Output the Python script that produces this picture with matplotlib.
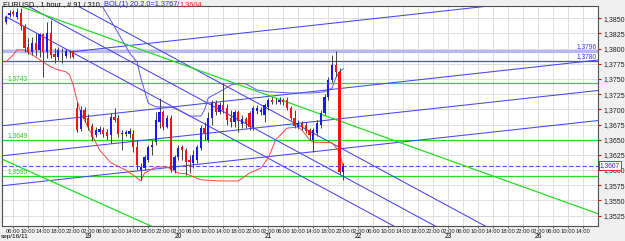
import matplotlib
matplotlib.use("Agg")
import matplotlib.pyplot as plt
from matplotlib import font_manager
import numpy as np

plt.rcParams['font.family'] = ['Liberation Sans', 'DejaVu Sans']

W, H = 625, 241

## BARS (hour index counted from sep/16 06:00, weekend skipped)
bar_idx = list(range(-2, 89))
opens = [1.3844, 1.3855, 1.3860, 1.3852, 1.3859, 1.3837, 1.3803, 1.3794, 1.3809, 1.3798,
         1.3824, 1.3794, 1.3826, 1.3791, 1.3786, 1.3794, 1.3788, 1.3793, 1.3796, 1.3702,
         1.3668, 1.3699, 1.3686, 1.3673, 1.3658, 1.3663, 1.3666, 1.3663, 1.3658, 1.3687,
         1.3686, 1.3659, 1.3659, 1.3659, 1.3659, 1.3638, 1.3600, 1.3603, 1.3617, 1.3638,
         1.3646, 1.3679, 1.3696, 1.3671, 1.3686, 1.3600, 1.3622, 1.3638, 1.3633, 1.3617,
         1.3612, 1.3617, 1.3636, 1.3669, 1.3650, 1.3686, 1.3710, 1.3696, 1.3707, 1.3702,
         1.3686, 1.3679, 1.3696, 1.3676, 1.3684, 1.3694, 1.3671, 1.3697, 1.3696, 1.3691,
         1.3704, 1.3715, 1.3714, 1.3712, 1.3715, 1.3715, 1.3702, 1.3686, 1.3671, 1.3678,
         1.3674, 1.3666, 1.3650, 1.3661, 1.3674, 1.3694, 1.3720, 1.3748, 1.3773, 1.3762,
         1.3597]
highs = [1.3855, 1.3864, 1.3864, 1.3867, 1.3867, 1.3841, 1.3818, 1.3819, 1.3826, 1.3826,
         1.3826, 1.3844, 1.3847, 1.3801, 1.3803, 1.3801, 1.3799, 1.3798, 1.3798, 1.3712,
         1.3706, 1.3704, 1.3692, 1.3678, 1.3671, 1.3673, 1.3671, 1.3668, 1.3694, 1.3702,
         1.3691, 1.3666, 1.3666, 1.3669, 1.3666, 1.3650, 1.3612, 1.3625, 1.3641, 1.3650,
         1.3696, 1.3719, 1.3699, 1.3691, 1.3691, 1.3625, 1.3641, 1.3641, 1.3636, 1.3625,
         1.3633, 1.3641, 1.3674, 1.3679, 1.3696, 1.3715, 1.3715, 1.3712, 1.3743, 1.3709,
         1.3699, 1.3699, 1.3699, 1.3691, 1.3687, 1.3697, 1.3706, 1.3707, 1.3704, 1.3710,
         1.3719, 1.3720, 1.3719, 1.3720, 1.3719, 1.3720, 1.3706, 1.3699, 1.3682, 1.3681,
         1.3679, 1.3669, 1.3669, 1.3682, 1.3699, 1.3725, 1.3753, 1.3790, 1.3796, 1.3768,
         1.3612]
lows = [1.3841, 1.3852, 1.3854, 1.3849, 1.3831, 1.3794, 1.3791, 1.3790, 1.3788, 1.3786,
        1.3753, 1.3785, 1.3785, 1.3776, 1.3781, 1.3776, 1.3785, 1.3785, 1.3785, 1.3663,
        1.3664, 1.3679, 1.3666, 1.3648, 1.3654, 1.3659, 1.3654, 1.3650, 1.3645, 1.3679,
        1.3654, 1.3633, 1.3656, 1.3653, 1.3630, 1.3600, 1.3584, 1.3600, 1.3613, 1.3625,
        1.3641, 1.3669, 1.3666, 1.3669, 1.3597, 1.3595, 1.3617, 1.3617, 1.3592, 1.3595,
        1.3603, 1.3612, 1.3633, 1.3650, 1.3646, 1.3674, 1.3691, 1.3692, 1.3694, 1.3674,
        1.3671, 1.3671, 1.3663, 1.3669, 1.3669, 1.3666, 1.3666, 1.3692, 1.3691, 1.3679,
        1.3699, 1.3709, 1.3709, 1.3709, 1.3707, 1.3699, 1.3682, 1.3669, 1.3668, 1.3666,
        1.3661, 1.3650, 1.3630, 1.3656, 1.3669, 1.3691, 1.3715, 1.3745, 1.3755, 1.3594,
        1.3584]
closes = [1.3852, 1.3859, 1.3857, 1.3860, 1.3837, 1.3801, 1.3794, 1.3809, 1.3798, 1.3824,
          1.3794, 1.3826, 1.3790, 1.3786, 1.3798, 1.3794, 1.3796, 1.3793, 1.3786, 1.3666,
          1.3699, 1.3684, 1.3671, 1.3654, 1.3666, 1.3668, 1.3659, 1.3656, 1.3687, 1.3682,
          1.3659, 1.3661, 1.3663, 1.3664, 1.3638, 1.3608, 1.3605, 1.3622, 1.3638, 1.3641,
          1.3682, 1.3696, 1.3671, 1.3686, 1.3600, 1.3622, 1.3636, 1.3633, 1.3613, 1.3613,
          1.3625, 1.3638, 1.3669, 1.3661, 1.3686, 1.3710, 1.3696, 1.3707, 1.3699, 1.3682,
          1.3679, 1.3696, 1.3681, 1.3684, 1.3678, 1.3671, 1.3702, 1.3702, 1.3699, 1.3707,
          1.3715, 1.3712, 1.3714, 1.3715, 1.3712, 1.3702, 1.3686, 1.3673, 1.3678, 1.3671,
          1.3664, 1.3658, 1.3666, 1.3678, 1.3694, 1.3720, 1.3748, 1.3773, 1.3762, 1.3597,
          1.3607]

## BOLLINGER BANDS
upper_i = [18, 23, 24, 27, 31, 33, 34, 36, 38, 42, 44, 47, 50, 51, 52, 55, 58, 60, 62,
           65, 68, 74, 80, 83, 85, 86, 87, 88]
upper_p = [1.3920, 1.3880, 1.3867, 1.3836, 1.3793, 1.3778, 1.3752, 1.3710, 1.3704, 1.3704,
           1.3699, 1.3689, 1.3689, 1.3699, 1.3719, 1.3729, 1.3740, 1.3743, 1.3742, 1.3732,
           1.3729, 1.3727, 1.3727, 1.3729, 1.3735, 1.3752, 1.3762, 1.3767]
lower_i = [-2, 0, 1, 3, 6, 8, 10, 12, 14, 15, 16, 17, 18, 21, 23, 26, 30, 33, 34, 35, 38,
           41, 44, 46, 50, 55, 60, 63, 66, 68, 70, 73, 76, 77, 79, 80, 85, 87, 88]
lower_p = [1.3778, 1.3790, 1.3798, 1.3798, 1.3786, 1.3778, 1.3770, 1.3765, 1.3762, 1.3757,
           1.3740, 1.3715, 1.3694, 1.3658, 1.3633, 1.3612, 1.3600, 1.3587, 1.3582, 1.3595,
           1.3605, 1.3605, 1.3595, 1.3594, 1.3584, 1.3582, 1.3582, 1.3595, 1.3603, 1.3620,
           1.3650, 1.3669, 1.3671, 1.3666, 1.3650, 1.3646, 1.3645, 1.3630, 1.3604]

## DRAWN OBJECTS
# (i0, p0, i1, p1)
blue_trend = [(-3.01, 1.36729, 155.93, 1.37813),
              (-3.01, 1.36235, 155.93, 1.37311),
              (-3.01, 1.35741, 155.93, 1.36816),
              (15.12, 1.37945, 155.93, 1.38900),
              (-1.95, 1.38528, 108.45, 1.34844),
              (-3.55, 1.38950, 116.45, 1.34946),
              (9.79, 1.38950, 129.79, 1.34946)]
green_trend = [(1.8, 1.3870, 155.93, 1.3528),
               (-3.01, 1.3618, 39.12, 1.3501)]
green_levels = [1.3743, 1.3649, 1.3590]
green_labels = ['1,3743', '1,3649', '1,3590']
blue_levels = [1.3796, 1.3780]
blue_labels = ['1,3796', '1,3780']
bid = 1.3607

day_ticks = [20, 44, 68, 92, 116, 140]
day_labels = ['19', '20', '21', '22', '23', '26']
time_ticks = list(range(0, 153, 4))
time_labels = ['%02d:00' % ((6 + t) % 24) for t in time_ticks]
price_ticks = [1.3525 + 0.0025 * k for k in range(14)]

# narrow face for the crowded time row if there is one
names = {f.name for f in font_manager.fontManager.ttflist}
if 'Liberation Sans Narrow' in names:
    xfont, xsize = 'Liberation Sans Narrow', 4.7
else:
    xfont, xsize = 'Liberation Sans', 4.25

fig = plt.figure(figsize=(W / 100, H / 100), dpi=100, facecolor='#f0f0f0')
ax = fig.add_axes([2 / W, 1 - 225.7 / H, 596 / W, 219.7 / H])
ax.set_facecolor('white')
ax.set_xlim(-3.013, 155.93)
ax.set_ylim(1.35083, 1.38703)

ax.set_axisbelow(True)
ax.grid(True, color='#dedede', lw=0.7)
for s in ax.spines.values():
    s.set_color('#505050')
    s.set_linewidth(0.8)

## LEVELS
for lv, lb in zip(green_levels, green_labels):
    ax.axhline(lv, color='#22dd22', lw=0.9, zorder=2)
    ax.text(0.01, lv + 0.00025, lb, transform=ax.get_yaxis_transform(), fontsize=4.8,
            color='#22cc22', va='bottom', ha='left')
ax.axhline(blue_levels[0], color='#b8b8f4', lw=2.3, zorder=2)
ax.axhline(blue_levels[1], color='#4848ee', lw=0.9, zorder=2)
for lv, lb in zip(blue_levels, blue_labels):
    ax.text(0.998, lv + 0.0002, lb, transform=ax.get_yaxis_transform(), fontsize=4.8,
            color='#3c3cdc', va='bottom', ha='right')
ax.axhline(bid, color='#5050ff', lw=0.8, ls=(0, (4, 2)), zorder=2)

## TRENDLINES
for i0, p0, i1, p1 in blue_trend:
    ax.plot([i0, i1], [p0, p1], color='#4646ee', lw=0.75, zorder=2)
for i0, p0, i1, p1 in green_trend:
    ax.plot([i0, i1], [p0, p1], color='#22dd22', lw=0.9, zorder=2)

## BANDS
ax.plot(upper_i, upper_p, color='#5a5aee', lw=0.7, zorder=2)
ax.plot(lower_i, lower_p, color='#ff4444', lw=0.7, zorder=2)

## CANDLES
for i, o, h, l, c in zip(bar_idx, opens, highs, lows, closes):
    ax.vlines(i, l, h, color='#404040', lw=0.7, zorder=3)
    if abs(c - o) < 0.00005:
        ax.bar(i, 0.00008, bottom=o - 0.00004, width=0.62, color='#909090', zorder=4)
    else:
        col = '#1818ff' if c > o else '#ff1010'
        ax.bar(i, abs(c - o), bottom=min(o, c), width=0.62, color=col, zorder=4)

## AXES
ax.yaxis.tick_right()
ax.set_yticks(price_ticks)
ax.set_yticklabels([('%.4f' % v).replace('.', ',') for v in price_ticks])
ax.tick_params(axis='y', color='red', labelcolor='#202020', length=2.5, width=0.8,
               pad=1.5, labelsize=5)
ax.set_xticks(time_ticks)
ax.set_xticklabels(time_labels, family=xfont)
ax.tick_params(axis='x', color='#505050', labelcolor='#202020', length=1.5, width=0.6,
               pad=1, labelsize=xsize)

ax.text(1.003, bid, ('%.4f' % bid).replace('.', ','), transform=ax.get_yaxis_transform(),
        fontsize=4.8, color='#2020c0', va='center', ha='left', clip_on=False, zorder=6,
        bbox=dict(boxstyle='square,pad=0.12', fc='white', ec='red', lw=0.6))

## DATE ROW
ax.text(-1 / 596, -0.05, 'sep/16/11', transform=ax.transAxes, fontsize=4.6, va='center',
        ha='left', family=xfont, clip_on=False)
for t, lb in zip(day_ticks, day_labels):
    ax.text(t, -0.05, lb, transform=ax.get_xaxis_transform(), fontsize=4.8,
            va='center', ha='center', clip_on=False)

## HEADER
t1 = fig.text(3 / W, 1 - 5 / H, 'EURUSD , 1 hour , # 91 / 310, ', fontsize=5.3,
              color='#101010', va='center', ha='left')
t2 = ax.annotate('BOL(1) 20,2.0=1,3767/', xy=(1, 0), xycoords=t1, va='bottom',
                 ha='left', fontsize=5.3, color='#2a2ae0', annotation_clip=False)
ax.annotate('1,3604', xy=(1, 0), xycoords=t2, va='bottom', ha='left', fontsize=5.3,
            color='#ff2020', annotation_clip=False)

fig.savefig('out.png', dpi=100, facecolor=fig.get_facecolor())
